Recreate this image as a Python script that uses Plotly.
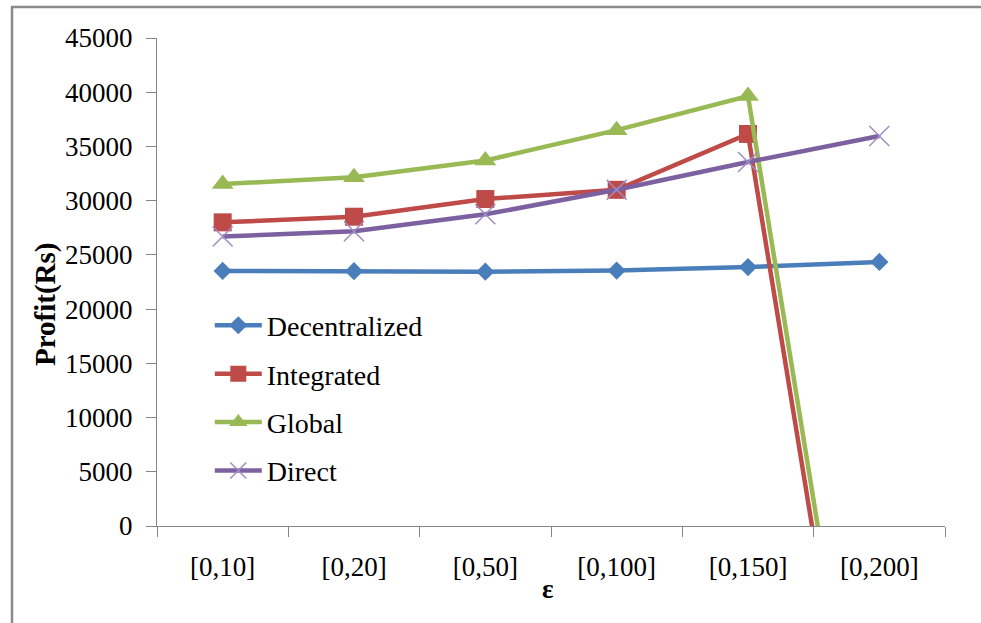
import plotly.graph_objects as go

categories = ["[0,10]", "[0,20]", "[0,50]", "[0,100]", "[0,150]", "[0,200]"]
decentralized = [23520, 23500, 23450, 23550, 23880, 24350]
integrated = [28000, 28520, 30150, 31000, 36150, -38000]
global_ = [31540, 32150, 33700, 36500, 39650, -35000]
direct = [26700, 27180, 28740, 31000, 33570, 35960]

y_ticks = [0, 5000, 10000, 15000, 20000, 25000, 30000, 35000, 40000, 45000]

FONT = "Liberation Serif"
fig = go.Figure()

series = [
    ("Decentralized", decentralized, "#4A7EBB", dict(symbol="diamond", size=14)),
    ("Integrated", integrated, "#BE4B48", dict(symbol="square", size=18)),
    ("Global", global_, "#98B954", dict(symbol="triangle-up", size=19)),
    ("Direct", direct, "#7D60A0", dict(symbol="x-thin", size=20,
                                      line=dict(width=1.5, color="#A08CC4"))),
]
for name, vals, col, mk in series:
    m = dict(color=col, **mk)
    fig.add_trace(go.Scatter(
        x=categories, y=vals, name=name, mode="lines+markers",
        line=dict(color=col, width=4.5), marker=m, legendgroup=name,
    ))

fig.update_layout(
    width=981, height=623,
    margin=dict(l=157, r=36, t=38, b=97),
    paper_bgcolor="white", plot_bgcolor="white",
    font=dict(family=FONT, size=27, color="black"),
    showlegend=True,
    legend=dict(x=0.067, y=0.462, xanchor="left", yanchor="top",
                bgcolor="rgba(0,0,0,0)", font=dict(family=FONT, size=28),
                tracegroupgap=9, itemwidth=47),
    xaxis=dict(
        type="category", range=[-0.5, 5.5], showgrid=False,
        showline=True, linecolor="#868686", linewidth=1,
        ticks="outside", tickson="boundaries", ticklen=10, tickcolor="#868686",
        tickfont=dict(family=FONT, size=27), ticklabelstandoff=17,
    ),
    yaxis=dict(
        range=[0, 45000], tickvals=y_ticks, tickformat="d", showgrid=False,
        showline=True, linecolor="#868686", linewidth=1,
        ticks="outside", ticklen=10, tickcolor="#868686",
        tickfont=dict(family=FONT, size=27), zeroline=False,
        ticklabelstandoff=8,
    ),
    annotations=[
        dict(text="<b>Profit(Rs)</b>", xref="paper", yref="paper",
             x=(45 - 157) / 788, y=(526 - 304) / 488, textangle=-90,
             showarrow=False, xanchor="center", yanchor="middle",
             font=dict(family=FONT, size=29)),
        dict(text="<b>ε</b>", xref="paper", yref="paper",
             x=(548 - 157) / 788, y=(526 - 589) / 488,
             showarrow=False, xanchor="center", yanchor="middle",
             font=dict(family=FONT, size=27)),
    ],
    shapes=[
        dict(type="rect", xref="paper", yref="paper",
             x0=(12 - 157) / 788, x1=(995 - 157) / 788,
             y0=(526 - 640) / 488, y1=(526 - 7) / 488,
             line=dict(color="#8A8A8A", width=2.5)),
    ],
)

fig.write_html("out.html")
